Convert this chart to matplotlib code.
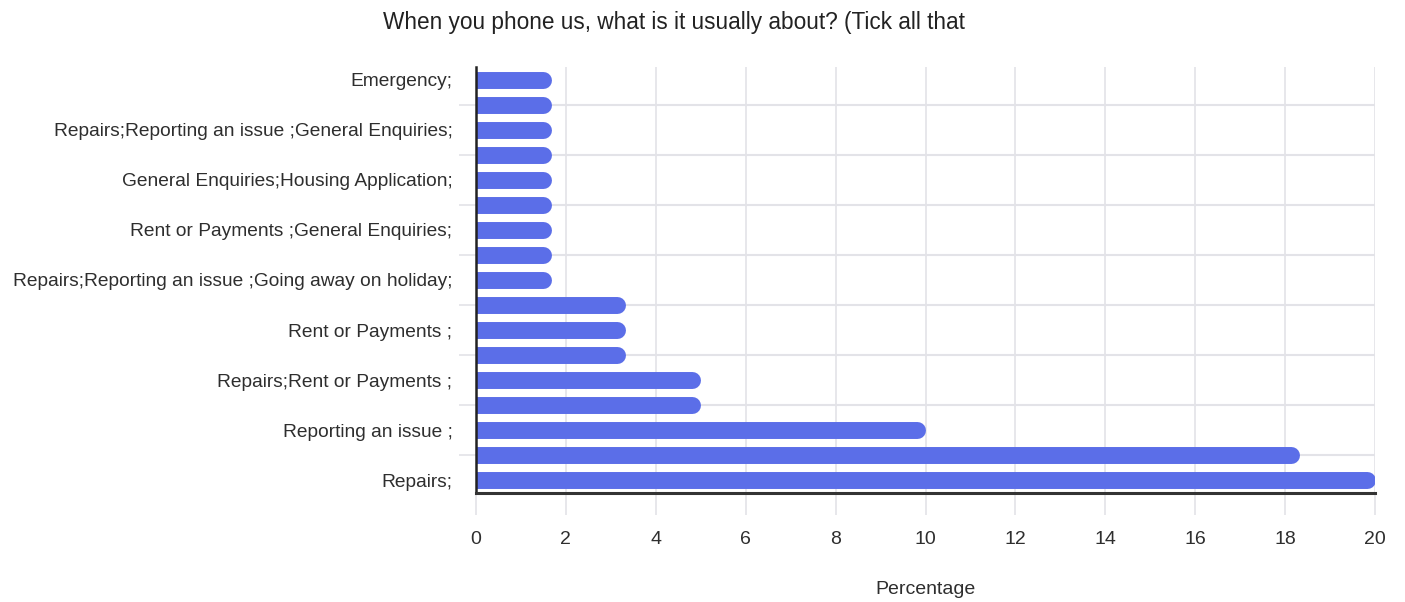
import matplotlib
matplotlib.use("Agg")
import matplotlib.pyplot as plt
from matplotlib.transforms import offset_copy

# Survey responses, listed from top to bottom of the chart
categories = [
    "Emergency;",
    "",
    "Repairs;Reporting an issue ;General Enquiries;",
    "",
    "General Enquiries;Housing Application;",
    "",
    "Rent or Payments ;General Enquiries;",
    "",
    "Repairs;Reporting an issue ;Going away on holiday;",
    "",
    "Rent or Payments ;",
    "",
    "Repairs;Rent or Payments ;",
    "",
    "Reporting an issue ;",
    "",
    "Repairs;",
]
percentages = [1.67, 1.67, 1.67, 1.67, 1.67, 1.67, 1.67, 1.67, 1.67,
               3.33, 3.33, 3.33, 5.0, 5.0, 10.0, 18.33, 20.0]
x_ticks = [0, 2, 4, 6, 8, 10, 12, 14, 16, 18, 20]
title = "When you phone us, what is it usually about? (Tick all that"
x_label = "Percentage"

plt.rcParams["font.family"] = ["Liberation Sans", "DejaVu Sans"]

BAR_COLOR = "#5b6ee8"
GRID_COLOR = "#e3e3e8"
TEXT_COLOR = "#2e2e2e"

fig = plt.figure(figsize=(14.05, 6.02), dpi=100)
ax = fig.add_axes([476 / 1405, 1 - 493 / 602, (1375 - 476) / 1405, (493 - 67) / 602])

n = len(categories)
ypos = list(range(n - 1, -1, -1))

# Bars drawn as thick lines with rounded ends, pulled back by the cap radius
lw = 12.2  # points
shifted = offset_copy(ax.transData, fig=fig, x=-lw / 2, y=0, units="points")
for y, v in zip(ypos, percentages):
    ax.plot([-5, v], [y, y], color=BAR_COLOR, lw=lw, solid_capstyle="round",
            transform=shifted, zorder=3, clip_on=True)

ax.set_xlim(0, 20)
ax.set_ylim(-0.5, n - 0.5)

# Labelled categories as major ticks, unlabelled ones as minor ticks with grid
labelled = [(y, c) for y, c in zip(ypos, categories) if c]
unlabelled = [y for y, c in zip(ypos, categories) if not c]
ax.set_yticks([y for y, _ in labelled])
ax.set_yticklabels([c for _, c in labelled])
ax.set_yticks(unlabelled, minor=True)
ax.tick_params(axis="y", which="major", length=0, pad=17, labelsize=13.8,
               labelcolor=TEXT_COLOR)
ax.tick_params(axis="y", which="minor", length=12, width=1.2, color=GRID_COLOR)
ax.grid(axis="y", which="minor", color=GRID_COLOR, lw=1.5, zorder=0)

ax.set_xticks(x_ticks)
ax.tick_params(axis="x", length=16, width=1.2, color=GRID_COLOR, pad=11,
               labelsize=14, labelcolor=TEXT_COLOR)
ax.grid(axis="x", color=GRID_COLOR, lw=1.2, zorder=0)
ax.set_axisbelow(True)

for s in ("top", "right"):
    ax.spines[s].set_visible(False)
ax.spines["left"].set_color("#222222")
ax.spines["left"].set_linewidth(1.8)
ax.spines["bottom"].set_color("#333333")
ax.spines["bottom"].set_linewidth(2.2)
ax.spines["left"].set_zorder(4)
ax.spines["bottom"].set_zorder(4)

ax.set_xlabel(x_label, fontsize=14, color=TEXT_COLOR, labelpad=24)
fig.text(674 / 1405, 1 - 23 / 602, title, ha="center", va="center",
         fontsize=16.3, color="#222222")

fig.savefig("out.png", dpi=100, facecolor="white")
